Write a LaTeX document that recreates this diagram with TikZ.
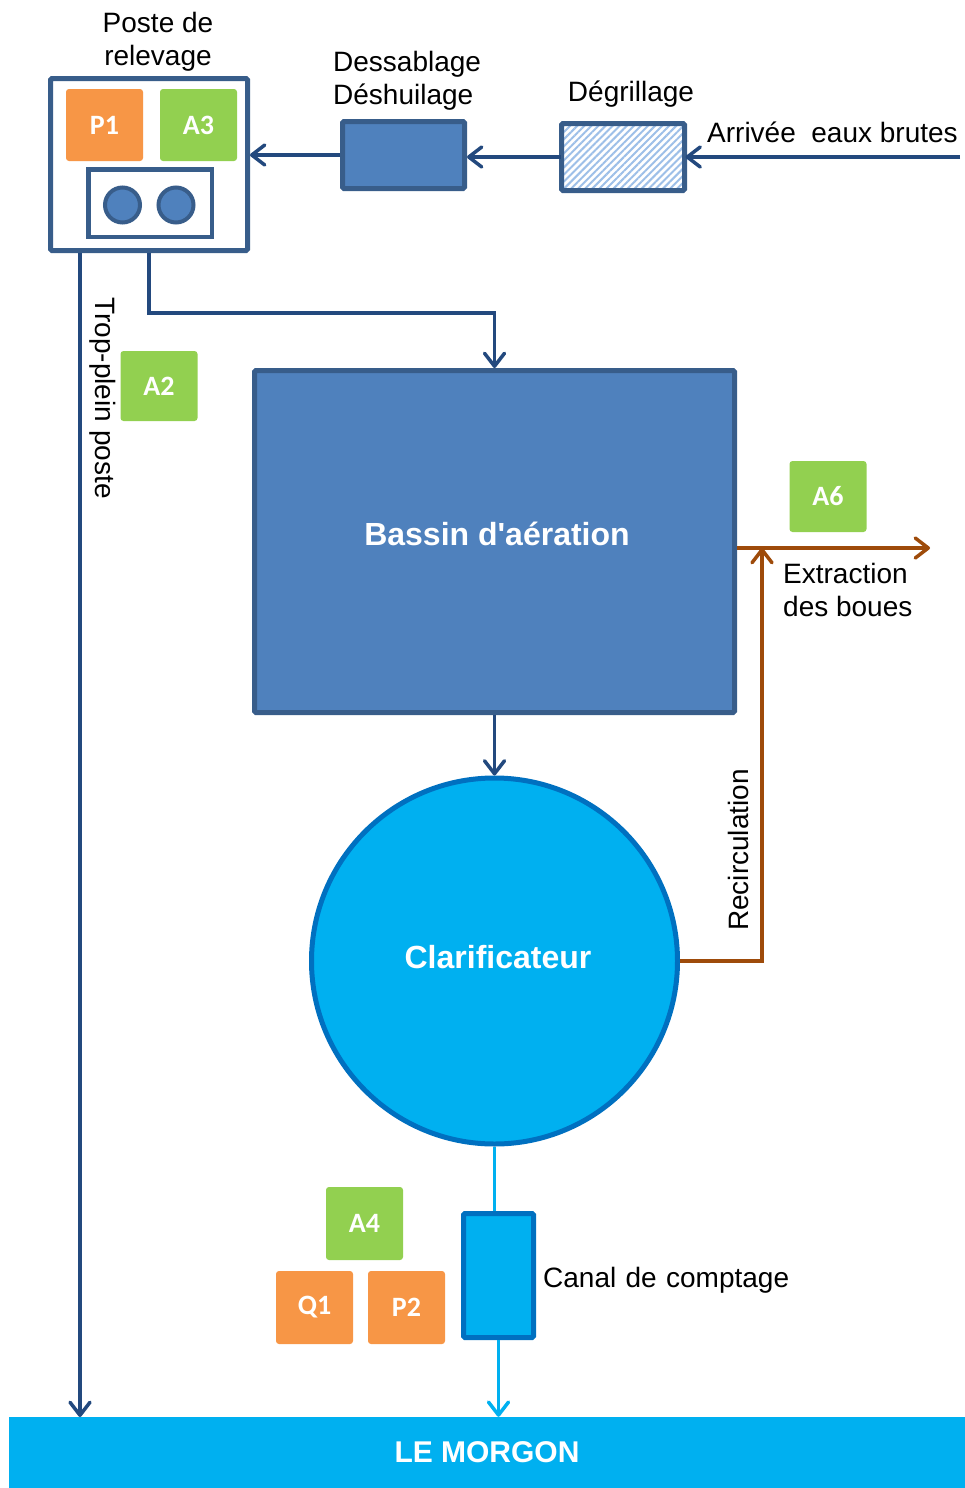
\documentclass[tikz,border=0pt]{standalone}
\usepackage{fontspec}
\setmainfont{Liberation Sans}
\newfontfamily\calibri{Carlito}
\usepackage{tikz}
\usetikzlibrary{arrows.meta,positioning,patterns.meta}
\definecolor{bleufonce}{HTML}{385D8A}
\definecolor{bleumoyen}{HTML}{4F81BD}
\definecolor{bleutrait}{HTML}{23497E}
\definecolor{bleuclair}{HTML}{00B0F0}
\definecolor{bleuvif}{HTML}{0070C0}
\definecolor{hachure}{HTML}{9DBFE8}
\definecolor{orangep}{HTML}{F79646}
\definecolor{vertp}{HTML}{92D050}
\definecolor{brun}{HTML}{9E4B0A}

\begin{document}
\begin{tikzpicture}[x=1pt,y=-1pt,
  texte/.style={font=\fontsize{28}{33}\selectfont,inner sep=0pt},
  titre/.style={font=\fontsize{32}{38}\selectfont\bfseries,text=white,inner sep=0pt},
  badge/.style={minimum width=77pt,minimum height=72pt,rounded corners=3pt,inner sep=0pt,text=white,font=\calibri\fontsize{28}{32}\selectfont\bfseries},
  ouvrage/.style={draw=bleufonce,fill=bleumoyen,line width=5pt,rounded corners=1.5pt},
  trait/.style={draw=bleutrait,line width=3.5pt},
  fleche/.style={-{Straight Barb[length=13pt,width=20pt,round]}}]
\useasboundingbox (0,0) rectangle (964,1488);
\node[draw=bleufonce,line width=5pt,fill=white,minimum width=197pt,minimum height=172pt,rounded corners=1.5pt] (poste) at (149,164.5) {};
\node[badge,fill=orangep] (p1) at (104.5,125) {P1};
\node[badge,fill=vertp] (a3) at (198.5,125) {A3};
\node[draw=bleufonce,line width=4.5pt,minimum width=123.5pt,minimum height=67.5pt] (pompes) at (150,203) {};
\node[circle,draw=bleufonce,fill=bleumoyen,line width=4pt,minimum size=35pt] (pompe1) at (122.5,205) {};
\node[circle,draw=bleufonce,fill=bleumoyen,line width=4pt,minimum size=35pt] (pompe2) at (176,205) {};
\node[texte,align=center] (lposte) at (158,42) {Poste de\\relevage};
\node[ouvrage,minimum width=122pt,minimum height=67pt] (dess) at (403.5,155) {};
\node[texte,align=left,anchor=west] (ldess) at (333,81) {Dessablage\\Déshuilage};
\node[draw=bleufonce,line width=5pt,rounded corners=1.5pt,minimum width=123pt,minimum height=67pt,preaction={fill=white},pattern={Lines[angle=45,distance=5pt,line width=2pt]},pattern color=hachure] (degr) at (623,157) {};
\node[texte,anchor=base] (ldegr) at (631,101) {Dégrillage};
\coordinate (arrivee) at (960,157);
\node[texte,anchor=base west] (larrivee) at (707,142) {Arrivée~~eaux brutes};
\draw[trait,fleche] (arrivee) -- (degr.east);
\draw[trait,fleche] (degr.west) -- (degr.west -| dess.east);
\draw[trait,fleche] (dess.west) -- (dess.west -| poste.east);
\node[fill=bleuclair,minimum width=956pt,minimum height=71pt,inner sep=0pt,font=\fontsize{30}{36}\selectfont\bfseries,text=white] (riviere) at (487,1452.5) {LE MORGON};
\coordinate (tpbas) at (80,1417);
\draw[trait,fleche] (tpbas |- poste.south) -- (tpbas);
\node[texte,rotate=-90] (ltp) at (103,398) {Trop-plein poste};
\node[badge,fill=vertp,minimum height=70pt] (a2) at (159,386) {A2};
\node[ouvrage,minimum width=480pt,minimum height=342pt] (bassin) at (494.5,541.5) {};
\node[titre] (lbassin) at (497,534) {Bassin d\textquotesingle aération};
\draw[trait,fleche] (poste.south) -- ++(0,60) -| (bassin.north);
\node[circle,draw=bleuvif,fill=bleuclair,line width=5pt,minimum size=366pt] (clarif) at (494.5,961) {};
\node[titre] (lclarif) at (498,957) {Clarificateur};
\draw[trait,fleche] (bassin.south) -- (clarif.north);
\coordinate (jonction) at (762,548);
\coordinate (sortie) at (930,548);
\draw[brun,line width=3.5pt,fleche] (clarif.east) -| (jonction);
\draw[brun,line width=3.5pt,fleche] (bassin.east |- sortie) -- (sortie);
\node[texte,rotate=90] (lrecirc) at (738,850) {Recirculation};
\node[texte,align=left,anchor=west] (lextr) at (783,590) {Extraction\\des boues};
\node[badge,fill=vertp,minimum height=71pt] (a6) at (828,496.5) {A6};
\node[draw=bleuvif,fill=bleuclair,line width=5pt,rounded corners=1.5pt,minimum width=70pt,minimum height=124pt] (canal) at (498.5,1275.5) {};
\draw[bleuclair,line width=3.5pt] (clarif.south) -- (clarif.south |- canal.north);
\draw[bleuclair,line width=3.5pt,fleche] (canal.south) -- (canal.south |- riviere.north);
\node[texte,anchor=base west] (lcanal) at (543,1287) {Canal\,\,de\,\,comptage};
\node[badge,fill=vertp,minimum height=73pt] (a4) at (364.5,1223.5) {A4};
\node[badge,fill=orangep,minimum height=73pt] (q1) at (314.5,1307.5) {Q1};
\node[badge,fill=orangep,minimum height=73pt] (p2) at (406.5,1307.5) {P2};
\end{tikzpicture}
\end{document}
